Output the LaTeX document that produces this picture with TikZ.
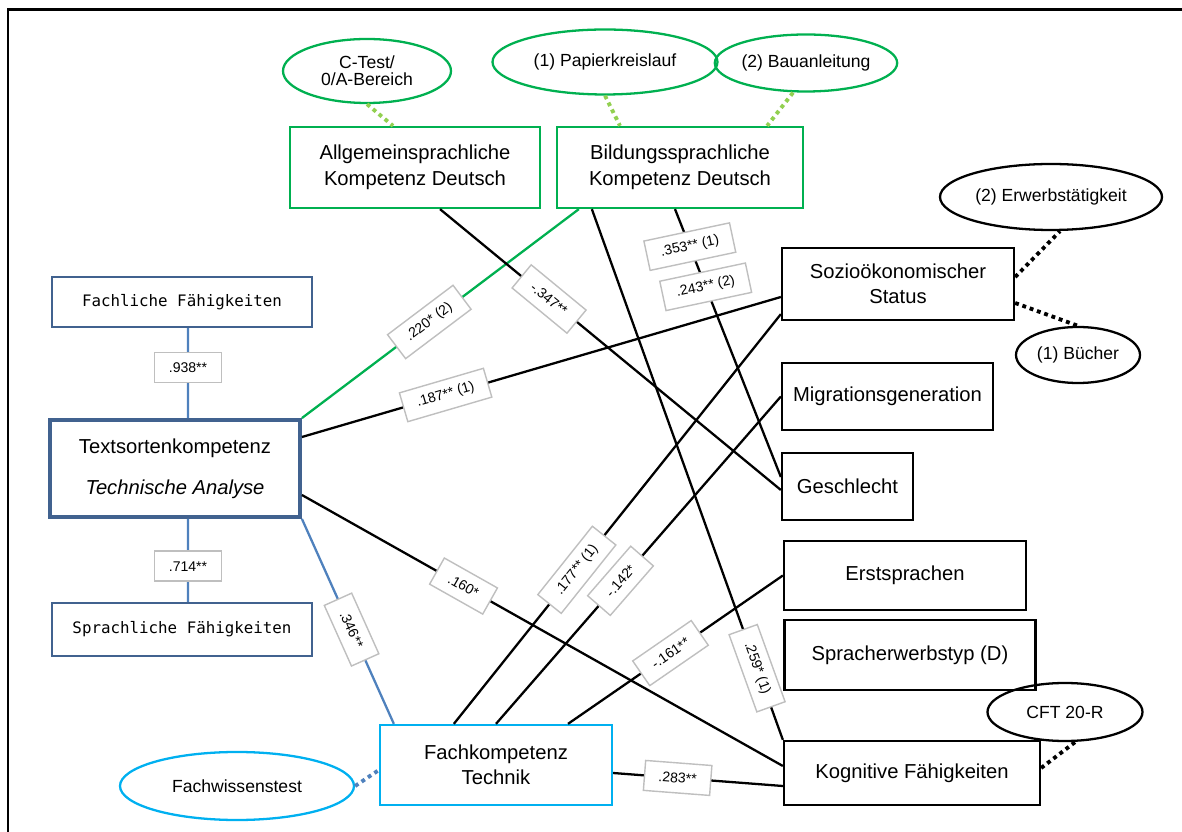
\documentclass[tikz,border=0pt]{standalone}
\usepackage{fontspec}
\setmainfont{Liberation Sans}
\newfontfamily\monofont{DejaVu Sans Mono}
\usetikzlibrary{shapes.geometric}
\definecolor{gruen}{HTML}{00B050}
\definecolor{hellgruen}{HTML}{92D050}
\definecolor{dunkelblau}{HTML}{41628F}
\definecolor{linienblau}{HTML}{4F81BD}
\definecolor{tuerkis}{HTML}{00B0F0}
\definecolor{rahmengrau}{HTML}{BFBFBF}
\tikzset{
	kasten/.style={draw, rectangle, line width=1.3pt, align=center, inner sep=0pt,
		font=\fontsize{11.5}{14.5}\selectfont},
	oval/.style={draw, ellipse, line width=1.3pt, align=center, inner sep=0pt,
		font=\fontsize{10}{11}\selectfont},
	wert/.style={draw=rahmengrau, fill=white, text=black, line width=0.8pt, inner xsep=8pt,
		minimum height=0.6cm, font=\fontsize{8}{9}\selectfont},
	pfad/.style={line width=1.3pt},
	punkte/.style={line width=2.2pt, dash pattern=on 2.2pt off 2.2pt},
}

\begin{document}
\begin{tikzpicture}
	\useasboundingbox (0,0) rectangle (23.64,-16.64);
	\draw [line width=1.7pt] (0.16,-16.64) -- (0.16,-0.2) -- (23.64,-0.2);
	% Deutsch
	\node [oval, draw=gruen, minimum width=3.36cm, minimum height=1.28cm, font=\fontsize{10}{9.5}\selectfont] (ctest) at (7.34,-1.42) {C-Test/\\0/A-Bereich};
	\node [oval, draw=gruen, minimum width=4.5cm, minimum height=1.3cm] (papier) at (12.1,-1.24) {(1) Papierkreislauf};
	\node [oval, draw=gruen, minimum width=3.36cm, minimum height=1.14cm] (bau) at (16.12,-1.26) {(2) Bauanleitung};
	\node [kasten, draw=gruen, minimum width=5cm, minimum height=1.62cm] (allg) at (8.3,-3.35) {Allgemeinsprachliche\\Kompetenz Deutsch};
	\node [kasten, draw=gruen, minimum width=4.92cm, minimum height=1.62cm] (bild) at (13.6,-3.35) {Bildungssprachliche\\Kompetenz Deutsch};
	% Hintergrund
	\node [oval, minimum width=4.44cm, minimum height=1.32cm] (erwerb) at (21.02,-3.94) {(2) Erwerbstätigkeit};
	\node [kasten, minimum width=4.64cm, minimum height=1.44cm] (soz) at (17.96,-5.68) {Sozioökonomischer\\Status};
	\node [oval, minimum width=2.48cm, minimum height=1.12cm] (buecher) at (21.56,-7.1) {(1) Bücher};
	\node [kasten, minimum width=4.22cm, minimum height=1.34cm] (migr) at (17.75,-7.93) {Migrationsgeneration};
	\node [kasten, minimum width=2.62cm, minimum height=1.34cm] (geschl) at (16.95,-9.73) {Geschlecht};
	\node [kasten, minimum width=4.84cm, minimum height=1.38cm] (erst) at (18.1,-11.51) {Erstsprachen};
	\node [kasten, minimum width=5.02cm, minimum height=1.4cm] (spr) at (18.2,-13.1) {Spracherwerbstyp (D)};
	\node [oval, minimum width=3.1cm, minimum height=1.16cm] (cft) at (21.3,-14.24) {CFT 20-R};
	\node [kasten, minimum width=5.12cm, minimum height=1.28cm] (kog) at (18.24,-15.46) {Kognitive Fähigkeiten};
	% Textsorten
	\node [kasten, draw=dunkelblau, minimum width=5.2cm, minimum height=1cm, font=\monofont\fontsize{9}{11}\selectfont] (fachl) at (3.64,-6.04) {Fachliche Fähigkeiten};
	\node [kasten, draw=dunkelblau, line width=2.2pt, minimum width=5cm, minimum height=1.94cm] (texts) at (3.5,-9.37) {Textsortenkompetenz\\[9pt]\textit{Technische Analyse}};
	\node [kasten, draw=dunkelblau, minimum width=5.2cm, minimum height=1.06cm, font=\monofont\fontsize{9}{11}\selectfont] (sprl) at (3.64,-12.59) {Sprachliche Fähigkeiten};
	\node [oval, draw=tuerkis, minimum width=4.68cm, minimum height=1.36cm] (fachw) at (4.74,-15.72) {Fachwissenstest};
	\node [kasten, draw=tuerkis, minimum width=4.64cm, minimum height=1.6cm] (fachk) at (9.92,-15.3) {Fachkompetenz\\Technik};
	%
	\draw [punkte, hellgruen] (ctest.south) -- ([xshift=-4.4mm]allg.north);
	\draw [punkte, hellgruen] (papier.south) -- ([xshift=-1.2cm]bild.north);
	\draw [punkte, hellgruen] ([xshift=-2.6mm]bau.south) -- ([xshift=-7.4mm]bild.north east);
	\draw [punkte] ([yshift=1.4mm]soz.east) -- ([xshift=1.8mm]erwerb.south);
	\draw [punkte] ([yshift=-3.8mm]soz.east) -- (buecher.north);
	\draw [punkte] ([yshift=1mm]kog.east) -- ([xshift=2mm]cft.south);
	\draw [punkte, linienblau] (fachw.east) -- ([yshift=-1mm]fachk.west);
	%
	\draw [pfad, linienblau] ([xshift=1.2mm]fachl.south) to node[wert, pos=0.44] {.938**} ([xshift=2.6mm]texts.north);
	\draw [pfad, linienblau] ([xshift=2.6mm]texts.south) to node[wert, pos=0.57] {.714**} ([xshift=1.2mm]sprl.north);
	\draw [pfad, linienblau] (texts.south east) to node[wert, sloped, pos=0.54] {.346**} ([xshift=3mm]fachk.north west);
	\draw [pfad, gruen] ([xshift=4.6mm]bild.south west) to node[wert, sloped, pos=0.54] {.220* (2)} (texts.north east);
	\draw [pfad] ([xshift=5mm]allg.south) to node[wert, sloped, pos=0.32] {-.347**} ([yshift=-0.7mm]geschl.west);
	\draw [pfad] ([xshift=7.2mm]bild.south west) to node[wert, sloped, pos=0.865] {.259* (1)} (kog.north west);
	\draw [pfad] ([xshift=-1mm]bild.south) to node[wert, rotate=12, pos=0.14] {.353** (1)} node[wert, rotate=12, pos=0.29] {.243** (2)} ([yshift=1.9mm]geschl.west);
	\draw [pfad] ([yshift=6.3mm]texts.east) to node[wert, sloped, pos=0.3] {.187** (1)} ([yshift=-2.6mm]soz.west);
	\draw [pfad] ([yshift=-5.3mm]texts.east) to node[wert, sloped, pos=0.336] {.160*} ([yshift=1.4mm]kog.west);
	\draw [pfad] ([xshift=1.5cm]fachk.north west) to node[wert, sloped, pos=0.376] {.177** (1)} ([yshift=1.4mm]soz.south west);
	\draw [pfad] (fachk.north) to node[wert, sloped, pos=0.437] {-.142*} (migr.west);
	\draw [pfad] ([xshift=1.44cm]fachk.north) to node[wert, sloped, pos=0.477] {-.161**} (erst.west);
	\draw [pfad] ([yshift=-1.6mm]fachk.east) to node[wert, sloped, pos=0.38] {.283**} ([yshift=-2.6mm]kog.west);
\end{tikzpicture}
\end{document}
